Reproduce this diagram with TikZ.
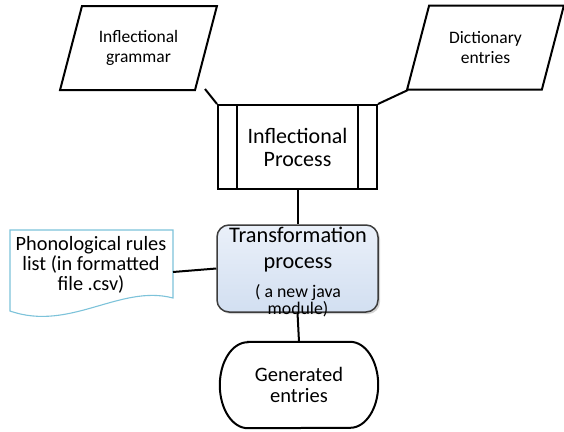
\documentclass[tikz,border=0pt]{standalone}
\usepackage{fontspec}
\setmainfont{Carlito}
\usetikzlibrary{shapes.geometric,shadows}

\definecolor{docblue}{RGB}{125,195,218}
\definecolor{boxtop}{RGB}{234,240,249}
\definecolor{boxbot}{RGB}{210,223,241}
\definecolor{boxline}{RGB}{60,60,60}

\tikzset{
  flow/.style = {line width=2pt},
  inbox/.style = {trapezium, trapezium left angle=68, trapezium right angle=112,
    trapezium stretches=true, draw, line width=2pt, minimum width=157pt,
    minimum height=84pt, align=center, font=\fontsize{17.5}{19.5}\selectfont},
}

\begin{document}
\begin{tikzpicture}[x=1pt, y=-1pt]

\useasboundingbox (0,0) rectangle (564,431);

% input data
\node[inbox] (gram) at (138.5,48) {Inflectional\\grammar};
\node[inbox] (dict) at (485.5,47.5) {Dictionary\\entries};

% inflectional process
\node[draw, flow, minimum width=159pt, minimum height=84pt, align=center,
  font=\fontsize{22}{23}\selectfont] (proc) at (297.5,147) {Inflectional\\Process};
\draw[flow] ([xshift=20pt]proc.north west) -- ([xshift=20pt]proc.south west);
\draw[flow] ([xshift=-20pt]proc.north east) -- ([xshift=-20pt]proc.south east);

% transformation
\node[draw=boxline, line width=1.5pt, rounded corners=12pt, top color=boxtop,
  bottom color=boxbot, drop shadow={opacity=0.35, shadow xshift=2pt, shadow yshift=-2pt},
  minimum width=161pt, minimum height=87pt, inner sep=0pt, align=center]
  (trans) at (297.5,268.5) {};
\node[align=center, font=\fontsize{22.3}{26}\selectfont, anchor=north]
  (transtxt) at (298,224) {Transformation\\process};
\node[align=center, font=\fontsize{17.8}{17}\selectfont, anchor=north]
  (transsub) at (298,281) {( a new java\\module)};

% phonological rules
\coordinate (docnw) at (10,230);
\draw[docblue, line width=1.1pt, fill=white]
  (docnw) -- (173,230) -- (173,298)
  .. controls (120,284) and (70,332) .. (10,311) -- cycle;
\node[align=center, font=\fontsize{20.3}{20}\selectfont] (rules) at (91,265)
  {Phonological rules\\list (in formatted\\file .csv)};

% generated entries
\node[minimum width=158pt, minimum height=86pt, align=center,
  font=\fontsize{20.5}{21}\selectfont] (gen) at (299,385) {Generated\\entries};
\draw[flow] ([xshift=28pt]gen.north west) -- ([xshift=-28pt]gen.north east)
  arc[start angle=90, end angle=-90, x radius=28pt, y radius=43pt]
  -- ([xshift=28pt]gen.south west)
  arc[start angle=270, end angle=90, x radius=28pt, y radius=43pt] -- cycle;

% connectors
\coordinate (gramend) at (205,89);
\coordinate (dictend) at (408,90);
\draw[flow] (gramend) -- (proc.north west);
\draw[flow] (dictend) -- (proc.north east);
\draw[flow] (proc.south) -- (trans.north);
\draw[flow] (trans.south) -- (gen.north);
\draw[flow] (173,272) -- (trans.west);

\end{tikzpicture}
\end{document}
